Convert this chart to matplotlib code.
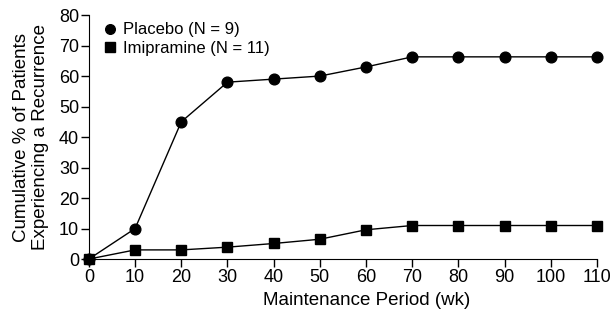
import numpy as np
import matplotlib.pyplot as plt

plt.rcParams['font.family'] = ['Liberation Sans', 'DejaVu Sans']

weeks = [0, 10, 20, 30, 40, 50, 60, 70, 80, 90, 100, 110]
placebo = [0, 10, 45, 58, 59, 60, 63, 66.3, 66.3, 66.3, 66.3, 66.3]
imipramine = [0, 3, 3, 3.9, 5.1, 6.5, 9.6, 11, 11, 11, 11, 11]

fig = plt.figure(figsize=(6.13, 3.14), dpi=100)
ax = fig.add_axes([0.145, 0.175, 0.829, 0.777])

ax.plot(weeks, placebo, color='black', lw=1, marker='o', ms=7.7,
        label='Placebo (N = 9)', clip_on=False, zorder=3)
ax.plot(weeks, imipramine, color='black', lw=1, marker='s', ms=7.7,
        label='Imipramine (N = 11)', clip_on=False, zorder=3)

ax.set_xlim(0, 110)
ax.set_ylim(0, 80)
ax.set_xticks(np.arange(0, 111, 10))
ax.set_yticks(np.arange(0, 81, 10))
ax.spines['top'].set_visible(False)
ax.spines['right'].set_visible(False)
ax.tick_params(direction='out', length=5.5, width=1, labelsize=13, pad=1.5)

ax.set_xlabel('Maintenance Period (wk)', fontsize=13.5, labelpad=0)
ax.xaxis.set_label_coords(0.547, -0.135)
ax.set_ylabel('Cumulative % of Patients\nExperiencing a Recurrence', fontsize=13.5,
              labelpad=7, linespacing=1.2)

leg = ax.legend(loc='upper left', frameon=False, fontsize=12, handlelength=0.7,
                handletextpad=0.45, borderaxespad=0, borderpad=0, labelspacing=0.2,
                markerscale=0.9, bbox_to_anchor=(0.03, 0.97))
for h in leg.legend_handles:
    h.set_linestyle('none')

fig.savefig('out.png', dpi=100)
